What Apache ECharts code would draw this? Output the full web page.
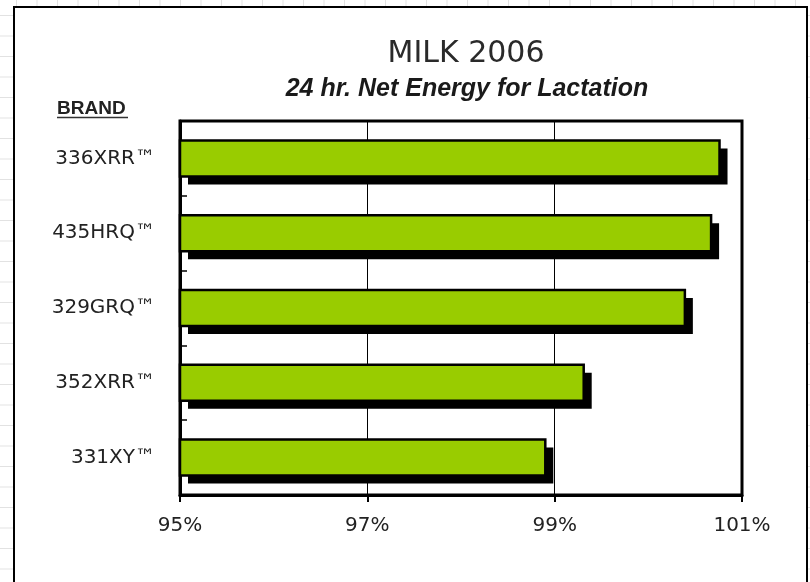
<!DOCTYPE html>
<html>
<head>
<meta charset="utf-8">
<title>MILK 2006</title>
<script src="https://cdn.jsdelivr.net/npm/echarts@6/dist/echarts.min.js"></script>
<style>
  html, body {
    margin: 0;
    padding: 0;
  }
  body {
    width: 810px;
    height: 582px;
    position: relative;
    overflow: hidden;
    background-color: #fff;
    background-image:
      linear-gradient(to right, #e2e2e2 1px, transparent 1px),
      linear-gradient(to bottom, #e2e2e2 1px, transparent 1px);
    background-size: 20.5px 20.5px;
    background-position: 16px 15px;
  }
  .frame {
    position: absolute;
    left: 13px;
    top: 6px;
    width: 791px;
    height: 600px;
    border: 2px solid #000;
    background: #fff;
  }
  #chart {
    position: absolute;
    left: 0;
    top: 0;
    width: 810px;
    height: 582px;
  }
</style>
</head>
<body>
<div class="frame"></div>
<div id="chart"></div>

<script>
// categories, top to bottom
const brands = ['336XRR™', '435HRQ™', '329GRQ™', '352XRR™', '331XY™']
// 24 hr net energy for lactation, % of trial average
const nelValues = [100.76, 100.67, 100.39, 99.31, 98.90]
// x axis tick labels
const xTicks = [95, 97, 99, 101]

const BAR_H = 36
const SHADOW = 8

const chart = echarts.init(document.getElementById('chart'))

// bar with a hard black drop shadow, like the old excel 3d-ish look
const renderBar = (params, api) => {
  const idx = api.value(1)
  const start = api.coord([xTicks[0], idx])
  const end = api.coord([api.value(0), idx])
  const x = start[0]
  const y = start[1] - BAR_H / 2
  const w = end[0] - start[0]
  return {
    type: 'group',
    children: [
      {
        type: 'rect',
        shape: { x: x + SHADOW, y: y + SHADOW, width: w, height: BAR_H },
        style: { fill: '#000' }
      },
      {
        type: 'rect',
        shape: { x: x, y: y, width: w, height: BAR_H },
        style: { fill: '#99cc00', stroke: '#000', lineWidth: 2.5 }
      }
    ]
  }
}

const option = {
  backgroundColor: 'transparent',
  animation: false,
  title: [
    {
      text: 'MILK 2006',
      left: 461,
      top: 34,
      textAlign: 'center',
      textStyle: {
        fontFamily: 'DejaVu Sans',
        fontSize: 30,
        fontWeight: 'normal',
        color: '#2a2a2a'
      }
    },
    {
      text: '24 hr. Net Energy for Lactation',
      left: 462,
      top: 72,
      textAlign: 'center',
      textStyle: {
        fontFamily: 'Liberation Sans',
        fontSize: 25,
        fontWeight: 'bold',
        fontStyle: 'italic',
        color: '#1a1a1a'
      }
    }
  ],
  graphic: [
    {
      type: 'text',
      left: 57,
      top: 99,
      style: {
        text: 'BRAND',
        fontFamily: 'Liberation Sans',
        fontSize: 19,
        fontWeight: 'bold',
        fill: '#222'
      }
    },
    {
      type: 'line',
      shape: { x1: 57, y1: 117.5, x2: 128, y2: 117.5 },
      style: { stroke: '#333', lineWidth: 1.5 }
    }
  ],
  grid: {
    left: 180,
    right: 68,
    top: 121,
    bottom: 87,
    show: true,
    borderColor: '#000',
    borderWidth: 3,
    backgroundColor: 'transparent'
  },
  xAxis: {
    type: 'value',
    min: xTicks[0],
    max: xTicks[xTicks.length - 1],
    interval: xTicks[1] - xTicks[0],
    axisLine: { show: true, lineStyle: { color: '#000', width: 3 } },
    axisTick: { show: true, length: 7, lineStyle: { color: '#000', width: 2 } },
    splitLine: { show: true, lineStyle: { color: '#000', width: 1 } },
    axisLabel: {
      formatter: '{value}%',
      fontFamily: 'DejaVu Sans',
      fontSize: 20,
      color: '#222',
      margin: 21
    }
  },
  yAxis: {
    type: 'category',
    data: brands,
    inverse: true,
    axisLine: { show: true, lineStyle: { color: '#000', width: 3 } },
    axisTick: { show: true, inside: true, length: 7, lineStyle: { color: '#000', width: 1.5 } },
    splitLine: { show: false },
    axisLabel: {
      fontFamily: 'DejaVu Sans',
      fontSize: 20,
      color: '#222',
      margin: 25
    }
  },
  series: [
    {
      name: 'NEL',
      type: 'custom',
      renderItem: renderBar,
      encode: { x: 0, y: 1 },
      data: nelValues.map((v, i) => [v, i]),
      z: 3
    }
  ]
}

chart.setOption(option)

window.addEventListener('resize', () => {
  chart.resize()
})
</script>
</body>
</html>
